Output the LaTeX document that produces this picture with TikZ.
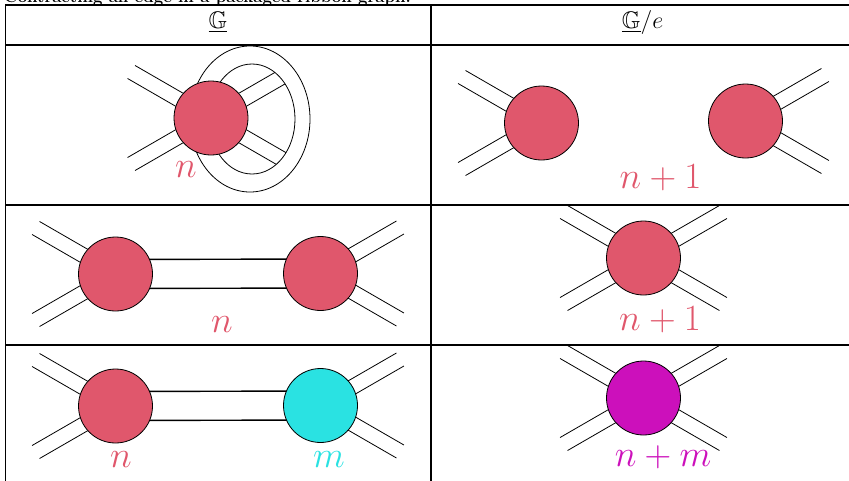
\RequirePackage{fix-cm}
\documentclass[tikz,border=0pt]{standalone}
\usepackage{amssymb}
\usetikzlibrary{backgrounds}
\definecolor{vred}{RGB}{224,87,108}
\definecolor{vcyan}{RGB}{42,226,226}
\definecolor{vmag}{RGB}{204,16,187}
\tikzset{
  vtx/.style={circle, draw=black, line width=0.8pt, minimum size=74pt, inner sep=0pt},
  stubline/.style={line width=0.8pt},
  edgeline/.style={line width=1.4pt},
  tabline/.style={line width=1.6pt},
  lab/.style={anchor=base, font={\fontsize{37}{40}\selectfont}, inner sep=0pt},
  hdr/.style={anchor=base, font={\fontsize{24}{28}\selectfont}, inner sep=0pt},
}
\newcommand\stubs[2]{%
  \foreach \ang in {#2}{\draw[stubline, shift={(#1.center)}, rotate=\ang] (0,7.5) -- (92,7.5) (0,-7.5) -- (92,-7.5);}}
\begin{document}
\begin{tikzpicture}[x=1pt,y=-1pt]
\useasboundingbox (0,0) rectangle (849,480);
\clip (0,0) rectangle (849,480);
% caption (cut off at top)
\node[anchor=base east, font={\bfseries\fontsize{16.8}{19}\selectfont}, inner sep=0pt] (cap) at (411,2.5) {Contracting an edge in a packaged ribbon graph.};
% table rules
\draw[tabline] (5,5) -- (860,5);
\draw[tabline] (5,45) -- (860,45);
\draw[tabline] (5,205) -- (860,205);
\draw[tabline] (5,345) -- (860,345);
\draw[line width=1.2pt] (5.5,4.2) -- (5.5,485);
\draw[tabline] (431,4.2) -- (431,485);
% headers
\node[hdr] (h1) at (218,28) {$\underline{\mathbb{G}}$};
\node[hdr] (h2) at (642.5,28) {$\underline{\mathbb{G}}/e$};
% row 1 left
\node[vtx, fill=vred] (v1) at (211,118) {};
\begin{scope}[on background layer]
  \draw[stubline] (250,119) ellipse [x radius=60pt, y radius=73pt];
  \draw[stubline] (252,119) ellipse [x radius=43pt, y radius=55pt];
  \begin{scope}
    \clip (252,119) ellipse [x radius=43pt, y radius=55pt];
    \stubs{v1}{30,330}
  \end{scope}
  \stubs{v1}{150,210}
\end{scope}
\node[lab, text=vred] (l1) at (186,177) {$n$};
% row 1 right
\node[vtx, fill=vred] (v2) at (541.5,123) {};
\node[vtx, fill=vred] (v3) at (745.5,121) {};
\begin{scope}[on background layer]
  \stubs{v2}{150,210}
  \stubs{v3}{30,330}
\end{scope}
\node[lab, text=vred] (l2) at (660.5,188) {$n+1$};
% row 2 left
\node[vtx, fill=vred] (v4) at (115.5,274) {};
\node[vtx, fill=vred] (v5) at (320.5,273.5) {};
\begin{scope}[on background layer]
  \stubs{v4}{150,210}
  \stubs{v5}{30,330}
  \draw[edgeline] ([yshift=14.5pt]v4.center) -- ([yshift=14.5pt]v5.center);
  \draw[edgeline] ([yshift=-14.5pt]v4.center) -- ([yshift=-14.5pt]v5.center);
\end{scope}
\node[lab, text=vred] (l3) at (222,332) {$n$};
% row 2 right
\node[vtx, fill=vred] (v6) at (643.5,258) {};
\begin{scope}[on background layer]
  \stubs{v6}{30,150,210,330}
\end{scope}
\node[lab, text=vred] (l4) at (660,330) {$n+1$};
% row 3 left
\node[vtx, fill=vred] (v7) at (115.5,406) {};
\node[vtx, fill=vcyan] (v8) at (320.5,405.5) {};
\begin{scope}[on background layer]
  \stubs{v7}{150,210}
  \stubs{v8}{30,330}
  \draw[edgeline] ([yshift=14.5pt]v7.center) -- ([yshift=14.5pt]v8.center);
  \draw[edgeline] ([yshift=-14.5pt]v7.center) -- ([yshift=-14.5pt]v8.center);
\end{scope}
\node[lab, text=vred] (l5) at (121,467) {$n$};
\node[lab, text=vcyan] (l6) at (329,467) {$m$};
% row 3 right
\node[vtx, fill=vmag] (v9) at (643.5,398) {};
\begin{scope}[on background layer]
  \stubs{v9}{30,150,210,330}
\end{scope}
\node[lab, text=vmag] (l7) at (663,466) {$n+m$};
\end{tikzpicture}
\end{document}
